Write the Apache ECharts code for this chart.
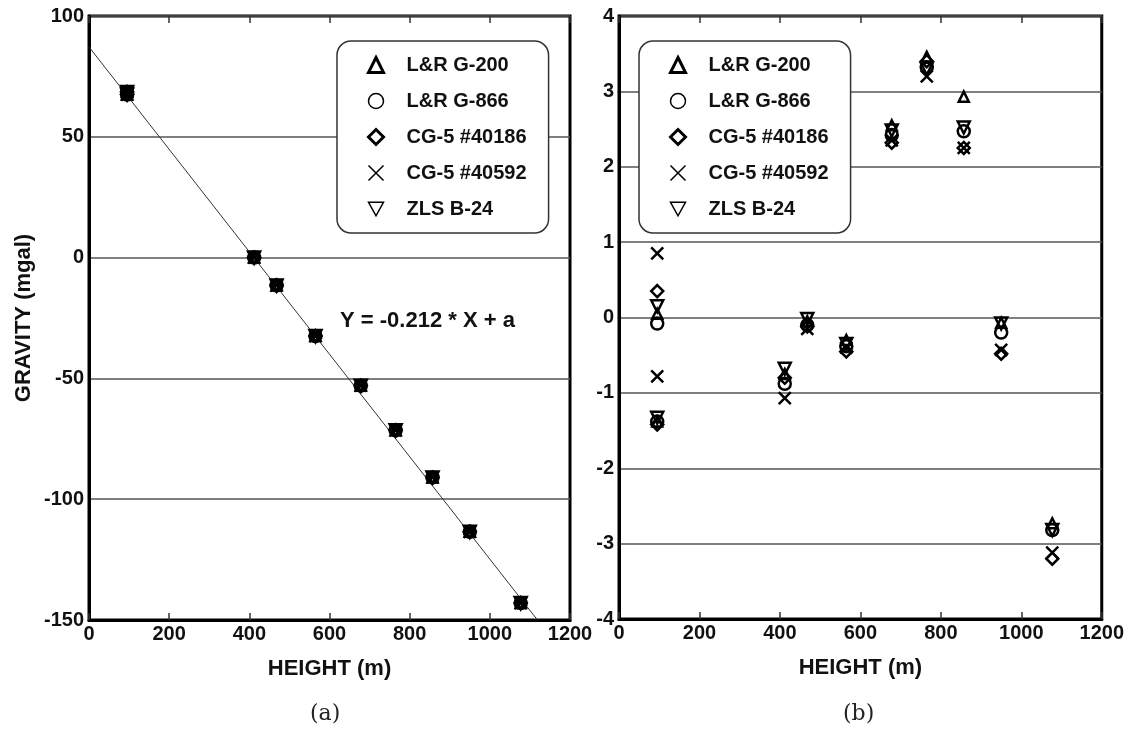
<!DOCTYPE html>
<html>
<head>
<meta charset="utf-8">
<script src="https://cdn.jsdelivr.net/npm/echarts@6/dist/echarts.min.js"></script>
<style>
html,body{margin:0;padding:0;background:#fff;}
#chart{width:1127px;height:731px;}
</style>
</head>
<body>
<div id="chart"></div>
<script>
// ---- data ----
const heights = [95, 95, 412, 468, 565, 678, 765, 857, 950, 1077];
const gravity = [68.5, 67.5, 0, -11.5, -32.5, -53, -71.5, -91, -113.5, -143];
const resG200  = [0.05, -1.38, -0.75, -0.05, -0.30, 2.55, 3.46, 2.93, -0.07, -2.73];
const resG866  = [-0.08, -1.38, -0.88, -0.10, -0.38, 2.42, 3.32, 2.47, -0.20, -2.82];
const res40186 = [0.35, -1.42, -0.80, -0.12, -0.45, 2.32, 3.40, 2.25, -0.48, -3.20];
const res40592 = [0.85, -0.78, -1.07, -0.15, -0.40, 2.35, 3.20, 2.25, -0.43, -3.12];
const resZLS   = [0.15, -1.33, -0.68, -0.02, -0.35, 2.48, 3.30, 2.52, -0.08, -2.82];
const instruments = ['L&R G-200', 'L&R G-866', 'CG-5 #40186', 'CG-5 #40592', 'ZLS B-24'];
const residuals = [resG200, resG866, res40186, res40592, resZLS];
const fitSlope = -0.212;
const fitIntercept = 87.2;
const xTicks = [0, 1200, 200];       // min, max, interval
const yTicksA = [-150, 100, 50];
const yTicksB = [-4, 4, 1];

// ---- styles ----
const FONT = '"Liberation Sans", Arial, sans-serif';
const symbols = [
  'triangle',
  'circle',
  'diamond',
  'path://M0,0 L10,10 M10,0 L0,10',
  'path://M0,0 L10,0 L5,9 Z'
];
const symSizes = [10, 12, 12, 12, 12];
const legendBorder = [3, 1.5, 3, 1.5, 1.5];

function pairs(ys){ return heights.map((h,i)=>[h, ys[i]]); }

const series = [];
// fit line in panel (a)
const fitEndX = (yTicksA[0] - fitIntercept) / fitSlope;
series.push({
  type:'line', name:'fit', xAxisIndex:0, yAxisIndex:0, silent:true,
  data:[[0, fitIntercept],[fitEndX, yTicksA[0]]],
  symbol:'none', lineStyle:{color:'#333', width:1}, z:1
});
instruments.forEach((name, k) => {
  const common = {
    type:'scatter', name, symbol:symbols[k], symbolSize:symSizes[k],
    itemStyle:{color:'rgba(0,0,0,0)', borderColor:'#000', borderWidth:2.5, opacity:1},
    z:3, silent:true
  };
  series.push(Object.assign({}, common, {xAxisIndex:0, yAxisIndex:0, data:pairs(gravity)}));
  series.push(Object.assign({}, common, {xAxisIndex:2, yAxisIndex:1, data:pairs(residuals[k])}));
});

function legendCfg(left){
  return {
    left, top:41, orient:'vertical',
    padding:[14, 22, 14, 30], itemGap:16, itemWidth:15, itemHeight:15,
    backgroundColor:'#fff', borderColor:'#333', borderWidth:1.5, borderRadius:14,
    textStyle:{fontSize:20, fontWeight:'bold', fontFamily:FONT, color:'#111', padding:[0,0,0,18]},
    selectedMode:false,
    data: instruments.map((n,k)=>({name:n, icon:symbols[k],
      itemStyle:{color:'rgba(0,0,0,0)', borderColor:'#000', borderWidth:legendBorder[k]}}))
  };
}

const tickLabel = {fontSize:20, fontWeight:'bold', fontFamily:FONT, color:'#111'};
function xBottom(gi){
  return {
    type:'value', gridIndex:gi, position:'bottom', min:xTicks[0], max:xTicks[1], interval:xTicks[2],
    name:'HEIGHT (m)', nameLocation:'middle', nameGap:38,
    nameTextStyle:{fontSize:22, fontWeight:'bold', fontFamily:FONT, color:'#111'},
    axisLine:{show:true, onZero:false, lineStyle:{color:'#000', width:3}},
    axisTick:{show:true, inside:true, length:7, lineStyle:{color:'#333', width:1.5}},
    axisLabel:Object.assign({margin:4, formatter:(v)=>String(v)}, tickLabel),
    splitLine:{show:false}
  };
}
function xTop(gi){
  return {
    type:'value', gridIndex:gi, position:'top', min:xTicks[0], max:xTicks[1], interval:xTicks[2],
    axisLine:{show:false, onZero:false},
    axisTick:{show:true, inside:true, length:7, lineStyle:{color:'#333', width:1.5}},
    axisLabel:{show:false}, splitLine:{show:false}
  };
}
function yAx(gi, t, name){
  return {
    type:'value', gridIndex:gi, min:t[0], max:t[1], interval:t[2],
    name:name, nameLocation:'middle', nameGap:54,
    nameTextStyle:{fontSize:22, fontWeight:'bold', fontFamily:FONT, color:'#111'},
    axisLine:{show:true, onZero:false, lineStyle:{color:'#000', width:3}},
    axisTick:{show:false},
    axisLabel:Object.assign({margin:5, formatter:(v)=>String(v)}, tickLabel),
    splitLine:{show:true, lineStyle:{color:'#555', width:1.5}}
  };
}

const option = {
  animation:false,
  backgroundColor:'#fff',
  grid:[
    {left:89, right:557, top:16, bottom:111, show:true, borderColor:'#000', borderWidth:3, backgroundColor:'transparent'},
    {left:619, right:25, top:16, bottom:112, show:true, borderColor:'#000', borderWidth:3, backgroundColor:'transparent'}
  ],
  xAxis:[xBottom(0), xTop(0), xBottom(1), xTop(1)],
  yAxis:[yAx(0, yTicksA, 'GRAVITY (mgal)'), yAx(1, yTicksB, '')],
  legend:[legendCfg(337), legendCfg(639)],
  graphic:[
    {type:'text', left:340, top:310, style:{text:'Y = -0.212 * X + a', font:'bold 22px "Liberation Sans", Arial, sans-serif', fill:'#111'}},
    {type:'text', left:310, top:703, style:{text:'(a)', font:'22px "DejaVu Serif", serif', fill:'#222'}},
    {type:'text', left:843, top:703, style:{text:'(b)', font:'22px "DejaVu Serif", serif', fill:'#222'}}
  ],
  series
};
echarts.init(document.getElementById('chart'), null, {renderer:'canvas'}).setOption(option);
</script>
</body>
</html>
